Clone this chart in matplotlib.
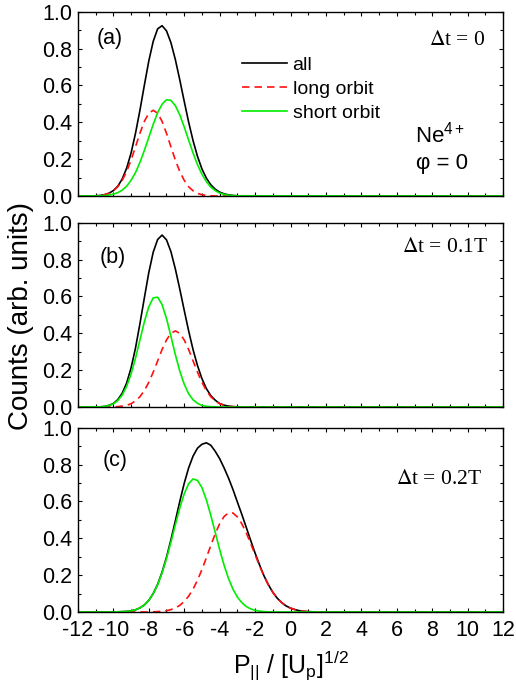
import matplotlib.pyplot as plt
import numpy as np
from matplotlib.ticker import MultipleLocator

plt.rcParams['font.family'] = ['Liberation Sans', 'DejaVu Sans']
plt.rcParams['mathtext.fontset'] = 'custom'
plt.rcParams['mathtext.rm'] = 'Liberation Sans'
plt.rcParams['mathtext.it'] = 'Liberation Sans:italic'
plt.rcParams['axes.unicode_minus'] = False

######################################
### DATA #############################
######################################
# sample positions, P_par / Up^1/2
x_a = np.arange(-11, -2.99, 0.25)
x_b = np.arange(-11, -2.99, 0.25)
x_c = np.arange(-10, 1.51, 0.25)

# (a) dt = 0
all_a = [0.001, 0.003, 0.007, 0.015, 0.029, 0.053, 0.092, 0.151, 0.233, 0.340, 0.465,
         0.601, 0.732, 0.839, 0.907, 0.924, 0.896, 0.832, 0.740, 0.630, 0.514, 0.401,
         0.300, 0.215, 0.147, 0.097, 0.061, 0.037, 0.021, 0.012, 0.006, 0.003, 0.001]
long_a = [0.001, 0.003, 0.007, 0.014, 0.028, 0.050, 0.085, 0.133, 0.195, 0.267, 0.340,
          0.405, 0.449, 0.465, 0.449, 0.405, 0.340, 0.267, 0.195, 0.133, 0.085, 0.050,
          0.028, 0.014, 0.007, 0.003, 0.001, 0.0, 0.0, 0.0, 0.0, 0.0, 0.0]
short_a = [0.001, 0.001, 0.002, 0.005, 0.010, 0.018, 0.032, 0.053, 0.085, 0.127, 0.182,
           0.247, 0.318, 0.389, 0.452, 0.498, 0.522, 0.519, 0.490, 0.440, 0.375, 0.303,
           0.233, 0.170, 0.118, 0.078, 0.048, 0.029, 0.016, 0.009, 0.004, 0.002, 0.001]

# (b) dt = 0.1T
all_b = [0.001, 0.001, 0.003, 0.009, 0.019, 0.040, 0.075, 0.130, 0.212, 0.320, 0.452,
         0.592, 0.729, 0.840, 0.909, 0.933, 0.907, 0.843, 0.749, 0.640, 0.525, 0.413,
         0.311, 0.225, 0.154, 0.100, 0.062, 0.037, 0.019, 0.010, 0.005, 0.002, 0.001]
long_b = [0.0, 0.0, 0.0, 0.0, 0.001, 0.002, 0.005, 0.009, 0.018, 0.033, 0.056,
          0.089, 0.134, 0.189, 0.250, 0.312, 0.364, 0.400, 0.413, 0.400, 0.364, 0.312,
          0.250, 0.189, 0.134, 0.089, 0.056, 0.033, 0.018, 0.009, 0.005, 0.002, 0.001]
short_b = [0.001, 0.001, 0.003, 0.008, 0.017, 0.035, 0.065, 0.112, 0.179, 0.265, 0.364,
           0.462, 0.544, 0.592, 0.596, 0.556, 0.480, 0.384, 0.284, 0.195, 0.124, 0.072,
           0.039, 0.020, 0.009, 0.004, 0.002, 0.001, 0.0, 0.0, 0.0, 0.0, 0.0]

# (c) dt = 0.2T
all_c = [0.000, 0.001, 0.002, 0.003, 0.006, 0.012, 0.022, 0.038, 0.063, 0.100, 0.150,
         0.216, 0.297, 0.392, 0.495, 0.600, 0.698, 0.782, 0.846, 0.889, 0.910, 0.918,
         0.905, 0.872, 0.832, 0.782, 0.727, 0.665, 0.597, 0.530, 0.460, 0.389, 0.320,
         0.256, 0.197, 0.148, 0.107, 0.075, 0.051, 0.033, 0.021, 0.013, 0.007, 0.004,
         0.002, 0.001, 0.000]
long_c = [0.0, 0.0, 0.0, 0.0, 0.0, 0.0, 0.0, 0.0, 0.0, 0.001, 0.002,
          0.004, 0.007, 0.013, 0.022, 0.036, 0.057, 0.086, 0.124, 0.173, 0.230, 0.294,
          0.361, 0.424, 0.479, 0.518, 0.538, 0.537, 0.516, 0.479, 0.430, 0.372, 0.311,
          0.251, 0.195, 0.147, 0.107, 0.075, 0.051, 0.033, 0.021, 0.013, 0.007, 0.004,
          0.002, 0.001, 0.0]
short_c = [0.000, 0.001, 0.002, 0.003, 0.006, 0.012, 0.022, 0.038, 0.063, 0.099, 0.148,
           0.212, 0.290, 0.379, 0.473, 0.564, 0.641, 0.696, 0.722, 0.714, 0.675, 0.609,
           0.525, 0.432, 0.339, 0.254, 0.182, 0.124, 0.081, 0.051, 0.030, 0.017, 0.009,
           0.005, 0.002, 0.001, 0.0, 0.0, 0.0, 0.0, 0.0, 0.0, 0.0, 0.0,
           0.0, 0.0, 0.0]

panel_labels = ['(a)', '(b)', '(c)']
dt_labels = [r'$\Delta$t = 0', r'$\Delta$t = 0.1T', r'$\Delta$t = 0.2T']
series_names = ['all', 'long orbit', 'short orbit']

panels = [(x_a, all_a, long_a, short_a),
          (x_b, all_b, long_b, short_b),
          (x_c, all_c, long_c, short_c)]

######################################
### PLOT #############################
######################################
fig = plt.figure(figsize=(5.16, 6.96), dpi=100)
left, width = 0.151, 0.824
bottoms = [0.7184, 0.4152, 0.1207]
height = 0.2648

# text positions in data coords
label_pos = [(-10.93, 0.857), (-10.76, 0.812), (-10.59, 0.82)]
dt_pos = [(10.98, 0.846), (11.15, 0.867), (10.81, 0.72)]

def pad_line(x, y):
    # lines run flat on zero over the whole axis
    return np.concatenate([[-12], x, [12]]), np.concatenate([[0], y, [0]])

axes = []
for i, (x, y_all, y_long, y_short) in enumerate(panels):
    ax = fig.add_axes([left, bottoms[i], width, height])
    axes.append(ax)
    ax.plot(*pad_line(x, y_all), color='black', lw=1.2, label=series_names[0])
    ax.plot(*pad_line(x, y_long), color='#ff1010', lw=1.2, dashes=[4.5, 3], label=series_names[1])
    ax.plot(*pad_line(x, y_short), color='#00ee00', lw=1.2, label=series_names[2])

    ax.set_xlim(-12, 12)
    ax.set_ylim(0, 1.0)
    ax.xaxis.set_major_locator(MultipleLocator(2))
    ax.xaxis.set_minor_locator(MultipleLocator(1))
    ax.yaxis.set_major_locator(MultipleLocator(0.2))
    ax.yaxis.set_minor_locator(MultipleLocator(0.1))
    ax.tick_params(which='both', direction='in', top=True, right=True, labelsize=15.5, width=0.8)
    ax.tick_params(which='major', length=3.2, pad=4)
    ax.tick_params(which='minor', length=1.9)
    ax.tick_params(axis='x', which='major', pad=6)
    for sp in ax.spines.values():
        sp.set_linewidth(1.0)
    if i < 2:
        ax.tick_params(labelbottom=False)

    ax.text(label_pos[i][0], label_pos[i][1], panel_labels[i], fontsize=15.5, va='center', ha='left')
    ax.text(dt_pos[i][0], dt_pos[i][1], dt_labels[i], fontsize=15.5, va='center', ha='right',
            family='Liberation Serif', math_fontfamily='stix')

# legend and ion label in panel (a)
axes[0].legend(loc='upper left', bbox_to_anchor=(0.386, 0.76), frameon=False, fontsize=14,
               handlelength=2.3, handletextpad=0.3, labelspacing=0.33, borderpad=0,
               borderaxespad=0)
axes[0].text(8.44, 0.335, r'Ne$^{\mathregular{4+}}$', fontsize=16, ha='center', va='center')
axes[0].text(8.55, 0.178, '\u03c6 = 0', fontsize=16, ha='center', va='center')

axes[2].set_xlabel(r'P$_{\mathregular{||}}$ / [U$_{\mathregular{p}}$]$^{\mathregular{1/2}}$',
                   fontsize=18, labelpad=5)
fig.text(0.04, 0.546, 'Counts (arb. units)', fontsize=20, rotation=90, ha='center', va='center')

fig.savefig('out.png', dpi=100)
